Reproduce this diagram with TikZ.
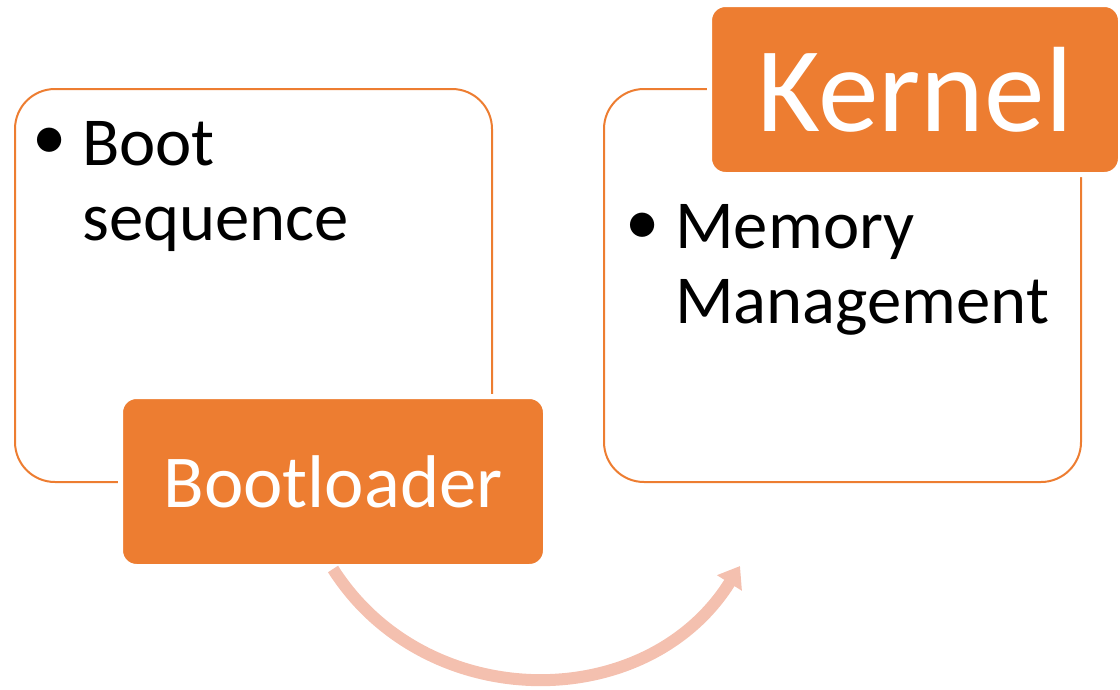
\documentclass[tikz,border=0pt]{standalone}
\usepackage{fontspec}
\setmainfont{Carlito}
\usepackage{tikz}
\usetikzlibrary{arrows.meta}
\usetikzlibrary{positioning}
\definecolor{accentorange}{RGB}{237, 125, 49}
\definecolor{arrowsalmon}{RGB}{244, 192, 175}

\tikzset{
  outlinebox/.style={draw=accentorange, line width=1.5pt, rounded corners=30pt,
                     minimum width=357.75pt, minimum height=294.75pt, inner sep=0pt},
  titlebox/.style={fill=accentorange, draw=white, line width=3.75pt, rounded corners=12pt,
                   minimum height=127.5pt, inner sep=0pt, text=white},
  itemtext/.style={align=left, inner sep=0pt, font=\fontsize{51.5}{56}\selectfont},
  bulletmark/.style={inner sep=0pt, font=\fontsize{51.5}{56}\selectfont},
  flow/.style={draw=arrowsalmon, line width=9pt, -{Triangle[length=15pt, width=21pt]}}
}

\begin{document}
\begin{tikzpicture}[x=0.75pt, y=-0.75pt]
  \useasboundingbox (0,0) rectangle (1120,689);
  % outline panels
  \node[outlinebox] (leftpanel)  at (253.5, 285.5) {};
  \node[outlinebox] (rightpanel) at (842.5, 285.5) {};
  % panel items
  \node[bulletmark] (seqdot) at (50, 144) {\textbullet};
  \node[itemtext, anchor=base west] (seqtext) at (82, 240) {Boot\\sequence};
  \node[bulletmark] (memdot) at (643, 229) {\textbullet};
  \node[itemtext, anchor=base west] (memtext) at (675, 323) {Memory\\Management};
  % titles
  \node[titlebox, minimum width=318.75pt, font=\fontsize{56}{60}\selectfont]
       (boot) at (333, 481.5) {Bootloader};
  \node[titlebox, minimum width=308.25pt, font=\fontsize{91}{96}\selectfont]
       (kernel) at (915, 89.5) {Kernel};
  % transition
  \coordinate (arrowtip) at (740, 566);
  \draw[flow] (boot.south) .. controls (426, 715) and (647, 715) .. (arrowtip);
\end{tikzpicture}
\end{document}
